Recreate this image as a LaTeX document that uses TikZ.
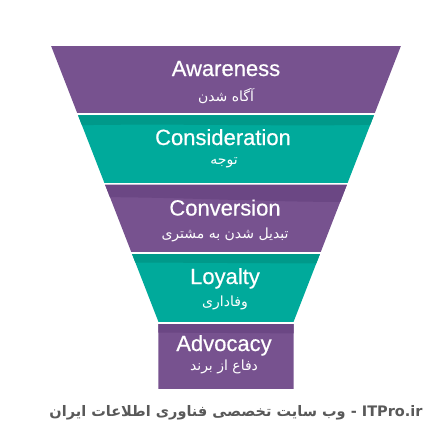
\documentclass[tikz,border=0pt]{standalone}
\usepackage{fontspec}
\setmainfont{Liberation Sans}
\newfontfamily\titlefont[FakeBold=0.5]{Liberation Sans}
\newfontfamily\fafont[Script=Arabic]{DejaVu Sans}
\TeXXeTstate=1
\definecolor{fpurple}{HTML}{77528F}
\definecolor{fpurpledk}{HTML}{6B4784}
\definecolor{fteal}{HTML}{00AA9B}
\definecolor{ftealdk}{HTML}{00998A}
\tikzset{
  title/.style={text=white, anchor=base, inner sep=0pt, font=\titlefont\fontsize{22}{24}\selectfont},
  sub/.style={text=white, inner sep=0pt, font=\fafont\fontsize{14}{16}\selectfont},
  wm/.style={text=black!65, inner sep=0pt, font=\fafont\bfseries\fontsize{14.5}{17}\selectfont}
}
\begin{document}
\begin{tikzpicture}[x=1pt,y=-1pt]
\useasboundingbox (0,0) rectangle (445,445);
\fill[white] (0,0) rectangle (445,445);
\begin{scope}
  \clip (51,45.7) -- (401,45.7) -- (293.6,321.7) -- (293.6,389) -- (158.4,389) -- (158.4,321.7) -- cycle;
  % Awareness
  \fill[fpurple] (0,45.7) rectangle (445,112.7);
  % Consideration
  \fill[fteal] (0,115.3) rectangle (445,182.7);
  \fill[ftealdk] (0,115.3) -- (445,115.3) -- (445,122) .. controls (320,130) and (140,120) .. (0,128) -- cycle;
  % Conversion
  \fill[fpurple] (0,184.7) rectangle (445,251.7);
  \fill[fpurpledk] (0,184.7) -- (445,184.7) -- (445,198) .. controls (320,210) and (140,190) .. (0,200) -- cycle;
  % Loyalty
  \fill[fteal] (0,254) rectangle (445,321.7);
  \fill[ftealdk] (0,254) -- (445,254) -- (445,260) .. controls (320,268) and (140,258) .. (0,266) -- cycle;
  % Advocacy
  \fill[fpurple] (0,324) rectangle (445,389);
  \fill[fpurpledk] (0,324) -- (445,324) -- (445,330) .. controls (320,338) and (140,328) .. (0,336) -- cycle;
\end{scope}
\node[title] (aw) at (226,76) {Awareness};
\node[sub] (aws) at (226,96.5) {\beginR آگاه شدن\endR};
\node[title] (co) at (223,145) {Consideration};
\node[sub] (cos) at (224,163) {\beginR توجه\endR};
\node[title] (cv) at (225,215.5) {Conversion};
\node[sub] (cvs) at (225,235) {\beginR تبدیل شدن به مشتری\endR};
\node[title] (ly) at (225,284) {Loyalty};
\node[sub] (lys) at (225,303) {\beginR وفاداری\endR};
\node[title] (ad) at (224,351) {Advocacy};
\node[sub] (ads) at (224,367) {\beginR دفاع از برند\endR};
\node[wm] (wmk) at (236,413) {\beginR\beginL ITPro.ir\endL{} - وب سایت تخصصی فناوری اطلاعات ایران\endR};
\end{tikzpicture}
\end{document}
